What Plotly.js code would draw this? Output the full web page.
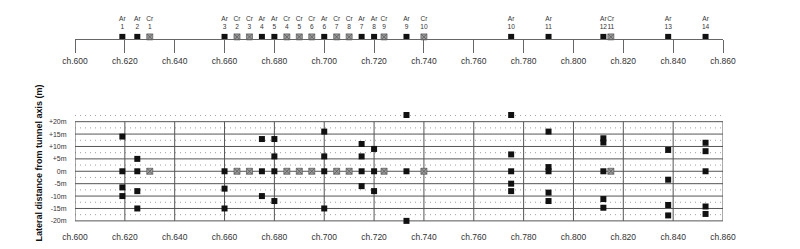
<!DOCTYPE html>
<html><head><meta charset="utf-8">
<script src="https://cdn.plot.ly/plotly-3.0.1.min.js"></script>
<style>html,body{margin:0;padding:0;background:#fff}#chart{width:800px;height:249px}</style>
</head><body><div id="chart"></div>
<script>
// ---- Top panel: probe locations along the tunnel (chainage) ----
const arChainage = [619, 625, 660, 675, 680, 700, 715, 720, 733, 775, 790, 812, 838, 853];
const arNumbers  = ['1','2','3','4','5','6','7','8','9','10','11','12','13','14'];
const crChainage = [630, 665, 670, 685, 690, 695, 705, 710, 724, 740, 815];
const crNumbers  = ['1','2','3','4','5','6','7','8','9','10','11'];

// ---- Bottom panel: lateral distance from tunnel axis (m) ----
const arPointChainage = [619,619,619,619, 625,625,625,625, 660,660,660, 675,675,675,
  680,680,680,680, 700,700,700,700, 715,715,715,715, 720,720,720, 733,733,733,
  775,775,775,775,775, 790,790,790,790,790, 812,812,812,812,812, 838,838,838,838,
  853,853,853,853,853];
const arPointOffset = [14,0,-6.5,-10, 5,0,-8,-15, 0,-7,-15, 13,0,-10,
  13,6,0,-12, 16,6,0,-15, 11,6,0,-6, 9,0,-8, 22.7,0,-20,
  22.7,6.8,0,-5,-8, 16,1.7,0,-8.6,-12, 13.3,11.6,0,-11.2,-14.7, 8.6,-3.4,-13.6,-17.8,
  11.5,8.1,0,-14.2,-17.2];
const crPointChainage = [630, 665, 670, 685, 690, 695, 705, 710, 724, 740, 815];
const crPointOffset   = [0, 0, 0, 0, 0, 0, 0, 0, 0, 0, 0];

// ---- Tick labels ----
const chainageTicks  = [600, 620, 640, 660, 680, 700, 720, 740, 760, 780, 800, 820, 840, 860];
const chainageLabels = ['ch.600','ch.620','ch.640','ch.660','ch.680','ch.700','ch.720','ch.740','ch.760','ch.780','ch.800','ch.820','ch.840','ch.860'];
const offsetTicks  = [20, 15, 10, 5, 0, -5, -10, -15, -20];
const offsetLabels = ['+20m','+15m','+10m','+5m','0m','-5m','-10m','-15m','-20m'];
const yTitle = 'Lateral distance from tunnel axis (m)';

const FONT = 'Liberation Sans, Arial, sans-serif';
const AR_COLOR = '#111111';
const CR_COLOR = '#9a9a9a';
const CR_LINE = '#555555';

const arMarker = {symbol: 'square', size: 6, color: AR_COLOR, line: {width: 0}};
const crMarker = {symbol: 'square-x', size: 6, color: CR_COLOR, line: {width: 0.7, color: CR_LINE}};
const labelFont = {size: 6.6, color: '#333', family: FONT};

const traces = [
  // top panel
  {type:'scatter', mode:'markers', x: arChainage, y: arChainage.map(() => 2.6), xaxis:'x3', yaxis:'y3', marker: arMarker, hoverinfo:'skip', cliponaxis:false},
  {type:'scatter', mode:'markers', x: crChainage, y: crChainage.map(() => 2.6), xaxis:'x3', yaxis:'y3', marker: crMarker, hoverinfo:'skip', cliponaxis:false},
  {type:'scatter', mode:'text', x: arChainage, y: arChainage.map(() => 16.3), text: arNumbers.map(n => 'Ar<br>' + n), textposition:'middle center',
    xaxis:'x3', yaxis:'y3', textfont: labelFont, hoverinfo:'skip', cliponaxis:false},
  {type:'scatter', mode:'text', x: crChainage, y: crChainage.map(() => 16.3), text: crNumbers.map(n => 'Cr<br>' + n), textposition:'middle center',
    xaxis:'x3', yaxis:'y3', textfont: labelFont, hoverinfo:'skip', cliponaxis:false},
  // bottom panel
  {type:'scatter', mode:'markers', x: crPointChainage, y: crPointOffset, xaxis:'x', yaxis:'y', marker: crMarker, hoverinfo:'skip', cliponaxis:false},
  {type:'scatter', mode:'markers', x: arPointChainage, y: arPointOffset, xaxis:'x', yaxis:'y', marker: arMarker, hoverinfo:'skip', cliponaxis:false}
];

// grid lines of the lower panel
const shapes = [];
const xMin = chainageTicks[0], xMax = chainageTicks[chainageTicks.length - 1];
const yMax = offsetTicks[0], yMin = offsetTicks[offsetTicks.length - 1];
offsetTicks.map(v => v + 2.5).forEach(v => shapes.push({type:'line', xref:'x', yref:'y', x0:xMin, x1:xMax, y0:v, y1:v, layer:'below', line:{color:'#a0a0a0', width:1, dash:'1px,4px'}}));
offsetTicks.forEach(v => shapes.push({type:'line', xref:'x', yref:'y', x0:xMin, x1:xMax, y0:v, y1:v, layer:'below', line:{color:'#555', width:1}}));
chainageTicks.forEach(v => shapes.push({type:'line', xref:'x', yref:'y', x0:v, x1:v, y0:yMin, y1:yMax, layer:'below', line:{color:'#555', width:1}}));

const xCommon = {range:[xMin, xMax], tickmode:'array', tickvals: chainageTicks, ticktext: chainageLabels,
  showgrid:false, zeroline:false, fixedrange:true, tickfont:{size:8.5, color:'#333', family:FONT}};

const layout = {
  width: 800, height: 249,
  margin: {l:75, r:77, t:0, b:0, pad:0},
  paper_bgcolor:'#ffffff', plot_bgcolor:'rgba(0,0,0,0)',
  showlegend:false,
  font:{family:FONT, color:'#333'},
  xaxis: Object.assign({}, xCommon, {anchor:'y', side:'bottom', showline:false, ticks:''}),
  xaxis2: Object.assign({}, xCommon, {anchor:'y', overlaying:'x', side:'top', showline:false, ticks:''}),
  xaxis3: Object.assign({}, xCommon, {anchor:'y3', domain:[0,1], side:'bottom', showline:true, linecolor:'#666', linewidth:1,
    ticks:'outside', ticklen:13, tickwidth:1, tickcolor:'#666'}),
  yaxis: {domain:[0.0731, 0.5711], range:[-24, 26], anchor:'x', tickmode:'array', tickvals: offsetTicks, ticktext: offsetLabels,
    showgrid:false, zeroline:false, showline:false, ticks:'outside', ticklen:6, tickcolor:'rgba(0,0,0,0)', fixedrange:true,
    tickfont:{size:7, color:'#333', family:FONT}},
  yaxis2: {domain:[0.0731, 0.5711], range:[-24, 26], anchor:'x', overlaying:'y', side:'right', tickmode:'array', tickvals: offsetTicks, ticktext: offsetLabels,
    showgrid:false, zeroline:false, showline:false, ticks:'outside', ticklen:6, tickcolor:'rgba(0,0,0,0)', fixedrange:true,
    tickfont:{size:7, color:'#333', family:FONT}},
  yaxis3: {domain:[0.8414, 0.98], range:[0, 34.5], anchor:'x3', visible:false, fixedrange:true},
  annotations: [{text: yTitle, xref:'paper', yref:'paper', x:-0.0563, y:0.3454, xanchor:'center', yanchor:'middle',
    textangle:-90, showarrow:false, font:{size:9, color:'#111', family:FONT, weight:'bold'}}],
  shapes: shapes
};

Plotly.newPlot('chart', traces, layout, {staticPlot:true, displayModeBar:false});
</script>
</body></html>
